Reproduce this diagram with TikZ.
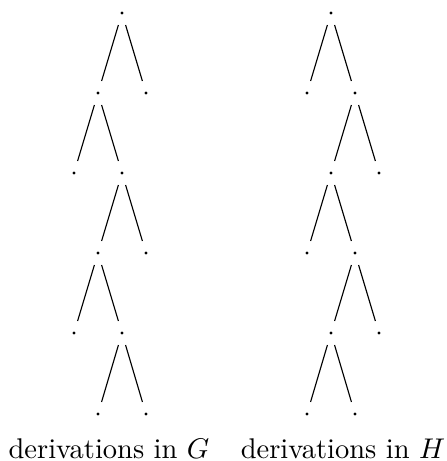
\documentclass[tikz,border=0pt]{standalone}
\begin{document}
\begin{tikzpicture}[x=0.351pt,y=-0.351pt,
  dotnode/.style={circle,fill=black,inner sep=0pt,minimum size=1.1pt},
  branch/.style={line width=0.4pt,shorten <=4.4pt,shorten >=4.4pt},
  lbl/.style={anchor=base,inner sep=0pt}]
\useasboundingbox (0,0) rectangle (447,461);
% left tree
\node[dotnode] (g0) at (122,13) {};
\node[dotnode] (g1l) at (98,93) {};
\node[dotnode] (g1r) at (146,93) {};
\node[dotnode] (g2l) at (74,173) {};
\node[dotnode] (g2r) at (122,173) {};
\node[dotnode] (g3l) at (98,253) {};
\node[dotnode] (g3r) at (146,253) {};
\node[dotnode] (g4l) at (74,333) {};
\node[dotnode] (g4r) at (122,333) {};
\node[dotnode] (g5l) at (98,414) {};
\node[dotnode] (g5r) at (146,414) {};
\draw[branch] (g0.center) -- (g1l.center);
\draw[branch] (g0.center) -- (g1r.center);
\draw[branch] (g1l.center) -- (g2l.center);
\draw[branch] (g1l.center) -- (g2r.center);
\draw[branch] (g2r.center) -- (g3l.center);
\draw[branch] (g2r.center) -- (g3r.center);
\draw[branch] (g3l.center) -- (g4l.center);
\draw[branch] (g3l.center) -- (g4r.center);
\draw[branch] (g4r.center) -- (g5l.center);
\draw[branch] (g4r.center) -- (g5r.center);
% right tree
\node[dotnode] (h0) at (331,13) {};
\node[dotnode] (h1l) at (307,93) {};
\node[dotnode] (h1r) at (355,93) {};
\node[dotnode] (h2l) at (331,173) {};
\node[dotnode] (h2r) at (379,173) {};
\node[dotnode] (h3l) at (307,253) {};
\node[dotnode] (h3r) at (355,253) {};
\node[dotnode] (h4l) at (331,333) {};
\node[dotnode] (h4r) at (379,333) {};
\node[dotnode] (h5l) at (307,414) {};
\node[dotnode] (h5r) at (355,414) {};
\draw[branch] (h0.center) -- (h1l.center);
\draw[branch] (h0.center) -- (h1r.center);
\draw[branch] (h1r.center) -- (h2l.center);
\draw[branch] (h1r.center) -- (h2r.center);
\draw[branch] (h2l.center) -- (h3l.center);
\draw[branch] (h2l.center) -- (h3r.center);
\draw[branch] (h3r.center) -- (h4l.center);
\draw[branch] (h3r.center) -- (h4r.center);
\draw[branch] (h4l.center) -- (h5l.center);
\draw[branch] (h4l.center) -- (h5r.center);
% labels
\node[lbl] (tg) at (109,458) {derivations in $G$};
\node[lbl] (th) at (343,458) {derivations in $H$};
\end{tikzpicture}
\end{document}
